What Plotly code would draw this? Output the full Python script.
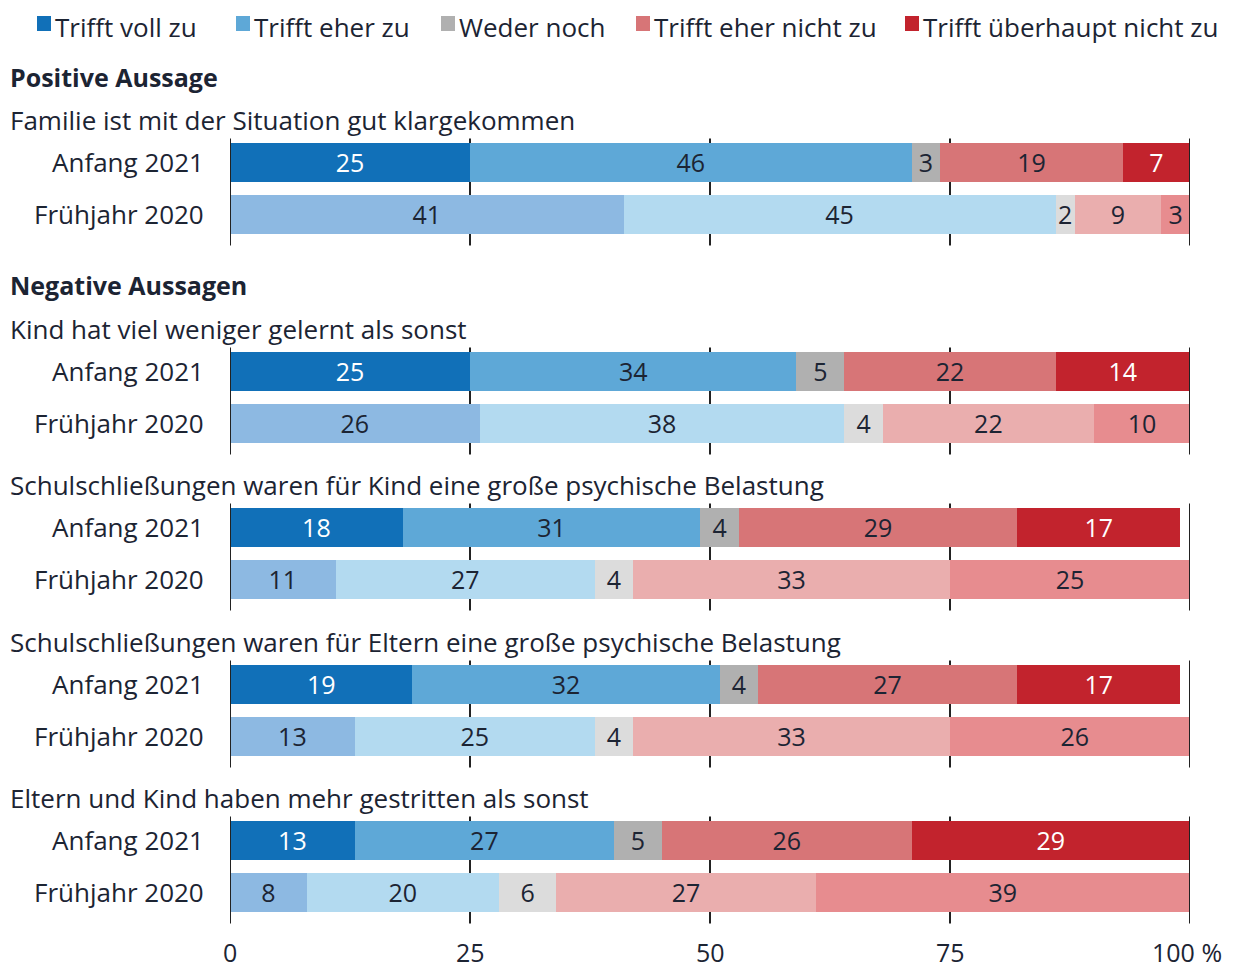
import plotly.graph_objects as go

# ---------------- data ----------------
categories = ["Trifft voll zu", "Trifft eher zu", "Weder noch",
              "Trifft eher nicht zu", "Trifft überhaupt nicht zu"]
statements = [
    "Familie ist mit der Situation gut klargekommen",
    "Kind hat viel weniger gelernt als sonst",
    "Schulschließungen waren für Kind eine große psychische Belastung",
    "Schulschließungen waren für Eltern eine große psychische Belastung",
    "Eltern und Kind haben mehr gestritten als sonst",
]
periods = ["Anfang 2021", "Frühjahr 2020"]
# values per statement, order of categories
anfang_2021 = [
    [25, 46, 3, 19, 7],
    [25, 34, 5, 22, 14],
    [18, 31, 4, 29, 17],
    [19, 32, 4, 27, 17],
    [13, 27, 5, 26, 29],
]
fruehjahr_2020 = [
    [41, 45, 2, 9, 3],
    [26, 38, 4, 22, 10],
    [11, 27, 4, 33, 25],
    [13, 25, 4, 33, 26],
    [8, 20, 6, 27, 39],
]
x_ticks = [0, 25, 50, 75, 100]
x_tick_labels = ["0", "25", "50", "75", "100 %"]
section_titles = ["Positive Aussage", "Negative Aussagen"]

# ---------------- styles ----------------
colors_2021 = ["#1170b8", "#5ea8d7", "#b0b0b0", "#d77577", "#c2232d"]
colors_2020 = ["#8db9e2", "#b3daf0", "#dcdcdc", "#eaaeae", "#e78c8f"]
text_2021 = ["white", "#1c2433", "#1c2433", "#1c2433", "white"]
text_2020 = ["#1c2433"] * 5
FONT = "Open Sans"
FS = 26
FS_BAR = 25
TXT = "#1c2433"

OFF = 8                      # page body margin of the browser
W, H = 1235 - OFF, 969 - OFF
X0, X1 = 230 - OFF, 1190 - OFF   # pixel positions of 0 and 100
PW = X1 - X0


def pxx(p):
    """reference pixel x -> paper x"""
    return (p - OFF - X0) / PW


def pxy(p):
    """reference pixel y -> paper y"""
    return 1 - (p - OFF) / H


def ydat(p):
    """reference pixel y -> data y (y axis in figure pixels)"""
    return p - OFF


# row layout (reference pixel y of bar centres)
a_centres = [162, 371, 527, 684, 840]
row_gap = 52
bar_h = 39
f_centres = [c + row_gap for c in a_centres]
sub_y = [c - 42 for c in a_centres]
section_y = [77, 285]

fig = go.Figure()

for per_i, (vals, cols, tcols, ys) in enumerate([
        (anfang_2021, colors_2021, text_2021, a_centres),
        (fruehjahr_2020, colors_2020, text_2020, f_centres)]):
    for ci, cat in enumerate(categories):
        xs = [row[ci] for row in vals]
        fig.add_trace(go.Bar(
            x=xs, y=[ydat(v) for v in ys], orientation="h", width=bar_h,
            name=cat, showlegend=False,
            marker=dict(color=cols[ci], line=dict(width=0)),
            text=[str(v) for v in xs], textposition="inside",
            insidetextanchor="middle", textangle=0,
            insidetextfont=dict(family=FONT, size=FS_BAR, color=tcols[ci]),
            hoverinfo="skip",
        ))

shapes = []
annotations = []

# vertical grid lines per group
for a, f in zip(a_centres, f_centres):
    for t in x_ticks:
        shapes.append(dict(
            type="line", xref="x", yref="y", x0=t, x1=t,
            y0=ydat(a - bar_h / 2 - 4), y1=ydat(f + bar_h / 2 + 12),
            line=dict(color="#222222", width=2),
            layer="above" if t in (0, 100) else "below"))


def txt(x, y, s, anchor="left", size=FS, yanchor="middle"):
    annotations.append(dict(x=pxx(x), y=pxy(y), xref="paper", yref="paper",
                            text=s, showarrow=False, xanchor=anchor,
                            yanchor=yanchor, borderpad=0,
                            font=dict(family=FONT, size=size, color=TXT)))


# row labels and subtitles
for si, st in enumerate(statements):
    txt(9, sub_y[si], st)
    txt(205, a_centres[si], periods[0], anchor="right")
    txt(205, f_centres[si], periods[1], anchor="right")

for ti, tt in enumerate(section_titles):
    txt(9, section_y[ti], "<b>" + tt + "</b>", size=FS - 1)

# x tick labels
for t, lab in zip(x_ticks, x_tick_labels):
    px = 230 + t / 100 * (1190 - 230)
    if lab.endswith("%"):
        txt(px - 39, 952, lab, anchor="left", size=FS - 1)
    else:
        txt(px, 952, lab, anchor="center", size=FS - 1)

# manual legend
legend_x = [37, 236, 441, 636, 905]
for ci, cat in enumerate(categories):
    lx = legend_x[ci]
    shapes.append(dict(type="rect", xref="paper", yref="paper",
                       x0=pxx(lx), x1=pxx(lx + 14), y0=pxy(31), y1=pxy(16),
                       fillcolor=colors_2021[ci], line=dict(width=0),
                       layer="above"))
    txt(lx + 17, OFF, cat, yanchor="top")

fig.update_layout(
    width=W, height=H,
    barmode="stack",
    margin=dict(l=X0, r=W - X1, t=0, b=0, pad=0),
    paper_bgcolor="white", plot_bgcolor="white",
    xaxis=dict(range=[0, 100], showgrid=False, zeroline=False,
               showticklabels=False, ticks="", fixedrange=True),
    yaxis=dict(range=[H, 0], showgrid=False, zeroline=False,
               showticklabels=False, ticks="", fixedrange=True),
    shapes=shapes, annotations=annotations,
    uniformtext=dict(minsize=FS_BAR, mode="show"),
    font=dict(family=FONT, color=TXT),
)

fig.write_html("out.html")
